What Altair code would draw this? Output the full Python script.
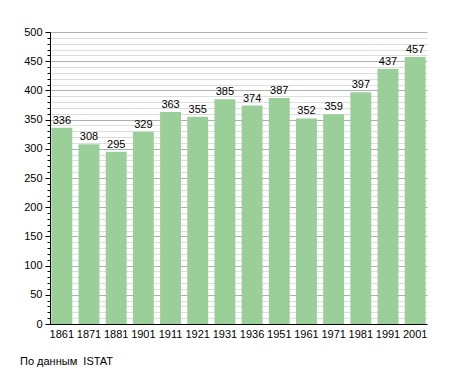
import altair as alt
import pandas as pd

years = ["1861", "1871", "1881", "1901", "1911", "1921", "1931", "1936",
         "1951", "1961", "1971", "1981", "1991", "2001"]
population = [336, 308, 295, 329, 363, 355, 385, 374, 387, 352, 359, 397, 437, 457]
y_ticks = list(range(0, 501, 10))
footer = ["По данным\u00a0 ISTAT"]

df = pd.DataFrame({"year": years, "pop": population})

x = alt.X("year:N", sort=years, title=None,
          scale=alt.Scale(paddingInner=0.23, paddingOuter=0.05),
          axis=alt.Axis(labelAngle=0, labelFontSize=11, labelColor="black",
                        labelFont="Liberation Sans", ticks=False,
                        domainColor="black", labelPadding=4))
y = alt.Y("pop:Q", title=None,
          scale=alt.Scale(domain=[0, 500], nice=False),
          axis=alt.Axis(values=y_ticks, tickCount=len(y_ticks),
                        labelExpr="datum.value % 50 === 0 ? datum.label : ''",
                        labelOverlap=False, labelFlush=False,
                        labelFontSize=11, labelColor="black",
                        labelFont="Liberation Sans",
                        domainColor="black", tickColor="black",
                        tickSize={"condition": {"test": "datum.value % 50 === 0", "value": 5}, "value": 3},
                        grid=True,
                        gridColor={"condition": {"test": "datum.value % 50 === 0", "value": "#b0b0b0"}, "value": "#dedede"},
                        labelPadding=3))

bars = alt.Chart(df).mark_bar(color="#9bcf99").encode(x=x, y=y)
labels = alt.Chart(df).mark_text(dy=-7, fontSize=11, font="Liberation Sans",
                                 color="black").encode(
    x=alt.X("year:N", sort=years), y="pop:Q", text="pop:Q")

foot = alt.Chart(pd.DataFrame({"t": footer})).mark_text(
    align="left", baseline="middle", fontSize=11, font="Liberation Sans",
    color="black").encode(x=alt.value(-30), y=alt.value(330), text="t:N")

chart = alt.layer(bars, labels, foot).properties(
    width=377, height=292,
    autosize=alt.AutoSizeParams(type="none"),
    padding={"left": 42, "top": 24, "right": 20, "bottom": 45},
).configure_view(stroke=None)

chart.save("out.html", embed_options={"renderer": "svg", "actions": False})
